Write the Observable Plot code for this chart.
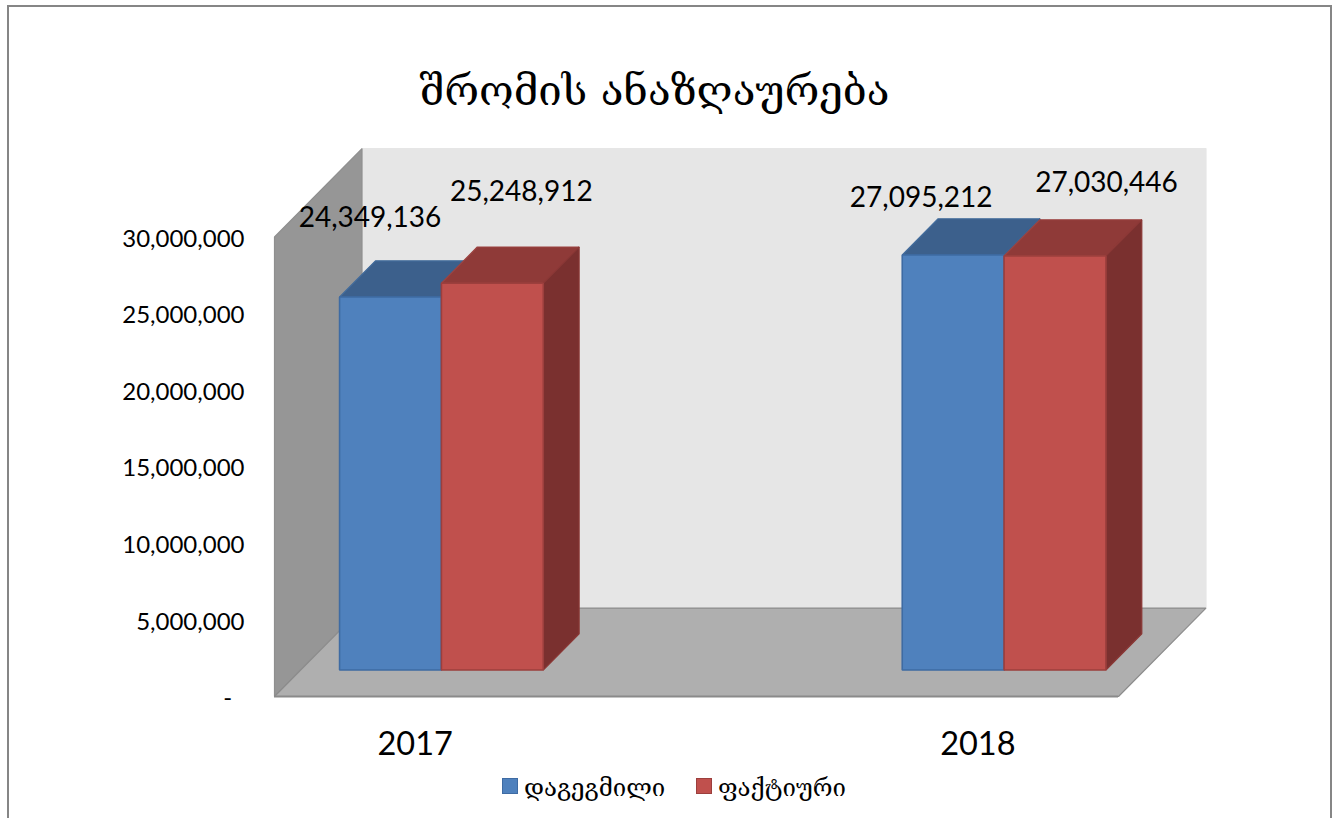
<!DOCTYPE html>
<html>
<head>
<meta charset="utf-8">
<script src="https://cdn.jsdelivr.net/npm/d3@7"></script>
<script src="https://cdn.jsdelivr.net/npm/@observablehq/plot@0.6"></script>
<style>
html,body{margin:0;padding:0;background:#fff;overflow:hidden}
#page{position:relative;width:1335px;height:818px;overflow:hidden}
#frame{position:absolute;left:7px;top:5px;width:1325px;height:830px;border:2px solid #868686;box-sizing:border-box}
#title{position:absolute;left:0;width:1335px;top:66px;text-align:center;font-family:"DejaVu Serif","DejaVu Sans",serif;font-size:42px;line-height:50px;color:#000;transform:translateX(-13px)}
#legend span{position:absolute;font-family:"DejaVu Serif","DejaVu Sans",serif;font-size:24px;line-height:28px;top:774px;white-space:nowrap;color:#000}
#legend i{position:absolute;top:778px;width:14px;height:14px;border:1px solid;display:block}
#chart{position:absolute;left:0;top:0}
</style>
</head>
<body>
<div id="page">
  <div id="frame"></div>
  <div id="chart"></div>
  <div id="title"></div>
  <div id="legend"></div>
</div>
<script>
const chartTitle = "შრომის ანაზღაურება";
const years = [2017, 2018];
const seriesNames = ["დაგეგმილი", "ფაქტიური"];
const planned = [24349136, 27095212];
const actual = [25248912, 27030446];
const yTicks = [0, 5000000, 10000000, 15000000, 20000000, 25000000, 30000000];

// Hand-placed data label nudges, as in the source chart [dx, dy] in px
const labelNudges = {
  planned: [[-20.5, -79], [-32, -57]],
  actual: [[29, -91], [51.5, -73]]
};

const xDomain = [2016.75, 2018.25];
const yDomain = [0, 30000000];
const depthYears = 0.1555;    // one unit of depth along x
const depthValue = 5770000;   // one unit of depth along y
const barWidth = 0.181;
const barFront = 0.3;
const barBack = 0.71;

const at = (year, value, depth) => ({x: year + depth * depthYears, y: value + depth * depthValue});

const face = (points, fill, stroke, strokeWidth = 1.2) =>
  Plot.line(points, {x: "x", y: "y", fill, stroke: stroke ?? fill, strokeWidth, curve: "linear-closed", strokeLinejoin: "miter"});

function bar(x0, x1, value, c) {
  return [
    face([at(x0, value, barFront), at(x1, value, barFront), at(x1, value, barBack), at(x0, value, barBack)], c.top, c.topEdge),
    face([at(x1, 0, barFront), at(x1, value, barFront), at(x1, value, barBack), at(x1, 0, barBack)], c.side, c.sideEdge),
    face([at(x0, 0, barFront), at(x1, 0, barFront), at(x1, value, barFront), at(x0, value, barFront)], c.front, c.edge, 1.6)
  ];
}

const blue = {front: "#4f81bd", edge: "#3e6ba3", top: "#3c608c", topEdge: "#436c9c", side: "#345478", sideEdge: "#3c608c"};
const red = {front: "#c0504d", edge: "#9c3f3d", top: "#8f3a38", topEdge: "#9c4341", side: "#7a302f", sideEdge: "#8a3735"};

const [xa, xb] = xDomain;
const [ya, yb] = yDomain;

const marks = [
  // back wall
  face([at(xa, ya, 1), at(xb, ya, 1), at(xb, yb, 1), at(xa, yb, 1)], "#e6e6e6"),
  // side wall
  face([at(xa, ya, 0), at(xa, ya, 1), at(xa, yb, 1), at(xa, yb, 0)], "#969696", "#8f8f8f"),
  // floor
  face([at(xa, ya, 0), at(xb, ya, 0), at(xb, ya, 1), at(xa, ya, 1)], "#afafaf", "#8c8c8c", 1.2),
  Plot.ruleY([0], {x1: xa, x2: xb, stroke: "#8a8a8a", strokeWidth: 2})
];

years.forEach((yr, i) => {
  marks.push(...bar(yr - barWidth, yr, planned[i], blue));
  marks.push(...bar(yr, yr + barWidth, actual[i], red));
});

marks.push(Plot.axisY({
  ticks: yTicks, anchor: "left", tickSize: 0, tickPadding: 30, fontSize: 24, dy: 2,
  tickFormat: d => d === 0 ? "-\u00a0\u00a0" : d3.format(",")(d), label: null
}));
marks.push(Plot.axisX({
  ticks: years, anchor: "bottom", tickSize: 0, tickPadding: 35, fontSize: 32.5, tickFormat: "d", label: null
}));

years.forEach((yr, i) => {
  const pn = labelNudges.planned[i], an = labelNudges.actual[i];
  const pa = at(yr - barWidth / 2, planned[i], barFront);
  const aa = at(yr + barWidth / 2, actual[i], barFront);
  marks.push(Plot.text([pa], {x: "x", y: "y", text: () => d3.format(",")(planned[i]), dx: pn[0], dy: pn[1], fontSize: 28, fill: "#000"}));
  marks.push(Plot.text([aa], {x: "x", y: "y", text: () => d3.format(",")(actual[i]), dx: an[0], dy: an[1], fontSize: 28, fill: "#000"}));
});

const chart = Plot.plot({
  width: 1335, height: 818,
  marginLeft: 274, marginRight: 217, marginTop: 236.5, marginBottom: 122,
  x: {domain: xDomain, type: "linear"},
  y: {domain: yDomain, type: "linear"},
  style: {fontFamily: "Lato, Carlito, sans-serif", background: "transparent", color: "#000"},
  marks
});
document.getElementById("chart").appendChild(chart);
document.getElementById("title").textContent = chartTitle;

const legend = document.getElementById("legend");
[[502, 524, blue, 0], [696, 718, red, 1]].forEach(([sx, tx, c, i]) => {
  const sw = document.createElement("i");
  sw.style.left = sx + "px"; sw.style.background = c.front; sw.style.borderColor = c.edge;
  legend.appendChild(sw);
  const t = document.createElement("span");
  t.style.left = tx + "px"; t.textContent = seriesNames[i];
  legend.appendChild(t);
});
</script>
</body>
</html>
